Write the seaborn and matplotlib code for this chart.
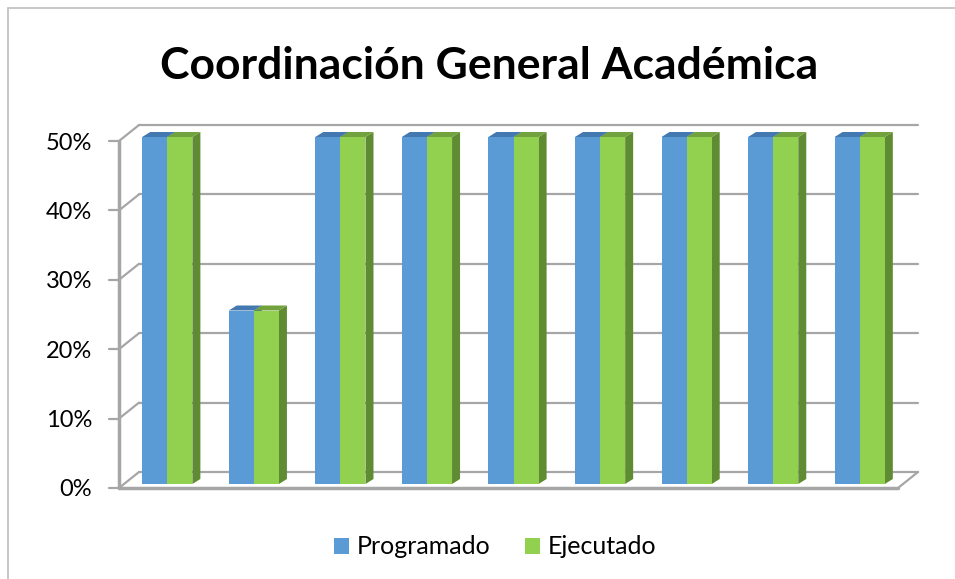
import numpy as np
import pandas as pd
import seaborn as sns
import matplotlib.pyplot as plt
import matplotlib.transforms as mtransforms
from matplotlib.patches import Polygon, Rectangle
from matplotlib.ticker import PercentFormatter

#_____ data
categorias = ['1', '2', '3', '4', '5', '6', '7', '8', '9']
programado = [0.50, 0.25, 0.50, 0.50, 0.50, 0.50, 0.50, 0.50, 0.50]
ejecutado = [0.50, 0.25, 0.50, 0.50, 0.50, 0.50, 0.50, 0.50, 0.50]
series = ['Programado', 'Ejecutado']
yticks = [0, 0.1, 0.2, 0.3, 0.4, 0.5]

df = pd.DataFrame({
    'cat': categorias * 2,
    'valor': programado + ejecutado,
    'serie': [series[0]] * len(categorias) + [series[1]] * len(categorias),
})

sns.set_style('white')
plt.rcParams['font.family'] = ['Lato', 'DejaVu Sans']
plt.rcParams['text.color'] = 'black'
plt.rcParams['ytick.color'] = 'black'

colores = {'Programado': '#5B9BD5', 'Ejecutado': '#92D050'}
lados = {'Programado': '#41719C', 'Ejecutado': '#5F8B32'}
techos = {'Programado': '#4478B0', 'Ejecutado': '#72A23E'}
gris = '#A6A6A6'

fig = plt.figure(figsize=(9.55, 5.79), dpi=100)
W, H = 955, 579
ax = fig.add_axes([124 / W, 1 - 484 / H, (903 - 124) / W, (484 - 137) / H])

sns.barplot(data=df, x='cat', y='valor', hue='serie', palette=colores,
            width=0.58, saturation=1, ax=ax, zorder=3, linewidth=0)
ax.set_xlim(-0.5, len(categorias) - 0.5)
ax.set_ylim(0, 0.5)
for s in ax.spines.values():
    s.set_visible(False)
ax.set_xlabel('')
ax.set_ylabel('')
ax.set_xticks([])
ax.set_yticks(yticks)
ax.yaxis.set_major_formatter(PercentFormatter(1.0, decimals=0))
ax.tick_params(axis='y', length=0, pad=23, labelsize=17, labelcolor='black')
for lab in ax.get_yticklabels():
    lab.set_transform(lab.get_transform() + mtransforms.ScaledTranslation(0, -4 / 100, fig.dpi_scale_trans))

#_____ pseudo 3d: back wall, front frame
atras = mtransforms.offset_copy(ax.transData, fig, x=15, y=12, units='dots')
frente = mtransforms.offset_copy(ax.transData, fig, x=-5, y=-4, units='dots')
x0, x1 = ax.get_xlim()
for t in yticks:
    ax.plot([x0, x1], [t, t], color=gris, lw=1.6, transform=atras, clip_on=False, zorder=1)
    # diagonal on the left side wall
    p0 = frente.transform((x0, t))
    p1 = atras.transform((x0, t))
    ax.plot([p0[0], p1[0]], [p0[1], p1[1]], color=gris, lw=1.6, transform=None, clip_on=False, zorder=1)
    # tick mark
    ax.plot([p0[0] - 10, p0[0]], [p0[1], p0[1]], color=gris, lw=1.6, transform=None, clip_on=False, zorder=1)
# floor front edge and right diagonal
ax.plot([x0, x1], [0, 0], color=gris, lw=2.5, transform=frente, clip_on=False, zorder=1)
q0 = frente.transform((x1, 0))
q1 = atras.transform((x1, 0))
ax.plot([q0[0], q1[0]], [q0[1], q1[1]], color=gris, lw=1.6, transform=None, clip_on=False, zorder=1)
# front vertical axis
ax.plot([x0, x0], [0, 0.5], color=gris, lw=2.5, transform=frente, clip_on=False, zorder=1)

#_____ bar depth faces
fig.canvas.draw()
bb = ax.get_window_extent()
dx = 8 / bb.width * (x1 - x0)
dy = 5 / bb.height * 0.5
for cont, serie in zip(ax.containers, series):
    for bar in cont:
        x, w, h = bar.get_x(), bar.get_width(), bar.get_height()
        lado = Polygon([(x + w, 0), (x + w + dx, dy), (x + w + dx, h + dy), (x + w, h)],
                       closed=True, facecolor=lados[serie], edgecolor='none', zorder=2.5, clip_on=False)
        techo = Polygon([(x, h), (x + dx, h + dy), (x + w + dx, h + dy), (x + w, h)],
                        closed=True, facecolor=techos[serie], edgecolor='none', zorder=2.5, clip_on=False)
        ax.add_patch(lado)
        ax.add_patch(techo)

#_____ legend and title
sns.move_legend(ax, 'center', bbox_to_anchor=(495 / W, 1 - 547 / H), bbox_transform=fig.transFigure,
                ncol=2, frameon=False, title=None, fontsize=18, handlelength=0.6, handleheight=0.6,
                handletextpad=0.3, columnspacing=1.4)

fig.text(489 / W, 1 - 79 / H, 'Coordinación General Académica', ha='center', va='baseline',
         fontsize=32, fontweight='bold', color='black')

fig.patches.append(Rectangle((8 / W, -0.1), 1.2, 1.1 - 8 / H, transform=fig.transFigure,
                             fill=False, edgecolor='#BFBFBF', lw=1.2))

fig.savefig('out.png', dpi=100)
